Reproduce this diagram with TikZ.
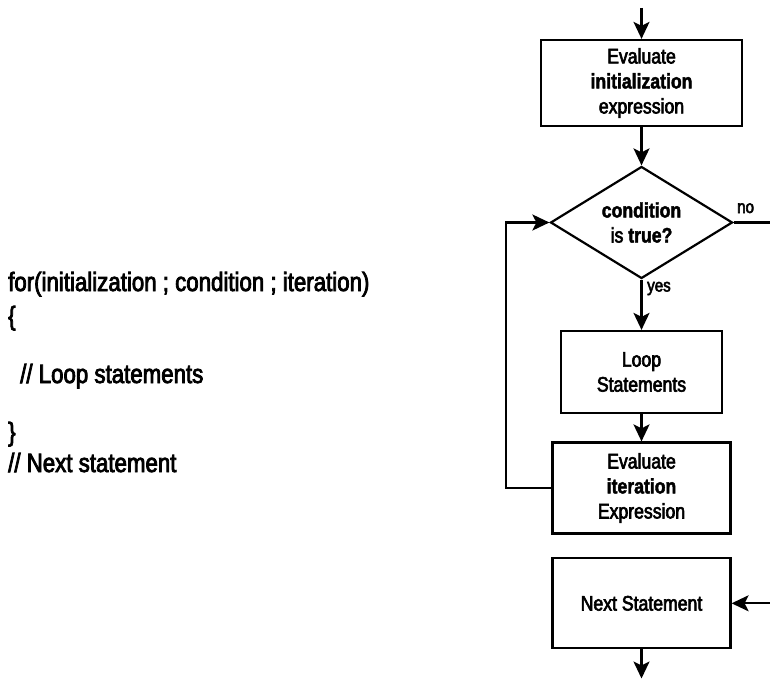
\documentclass[tikz,border=0pt]{standalone}
\usepackage{fontspec}
\setmainfont{Liberation Sans}[FakeStretch=0.84,
  UprightFeatures={FakeBold=3},
  BoldFeatures={FakeBold=2}]
\usetikzlibrary{shapes.geometric,arrows.meta}
\begin{document}
\begin{tikzpicture}[x=1pt,y=-1pt,
  flow/.style={line width=2.2pt},
  arr/.style={flow,-{Stealth[length=17pt,width=16pt,inset=4pt]}},
  stepbox/.style={draw,line width=2.2pt,align=center,inner sep=0pt,
    font=\fontsize{21}{25}\selectfont},
  codeline/.style={anchor=base west,inner sep=0pt,
    font=\fontsize{26.5}{31}\selectfont},
  tag/.style={anchor=base west,inner sep=0pt,
    font=\fontsize{18}{21}\selectfont}]
\useasboundingbox (0,0) rectangle (770,679);

% source code of the loop
\node[codeline] (codeFor)   at (8,291)  {for(initialization ; condition ; iteration)};
\node[codeline] (codeOpen)  at (8,325)  {\{};
\node[codeline] (codeBody)  at (20,383) {// Loop statements};
\node[codeline] (codeClose) at (8,441)  {\}};
\node[codeline] (codeNext)  at (8,472)  {// Next statement};

% flow chart
\node[stepbox,minimum width=201pt,minimum height=86pt] (init) at (641.5,83)
  {Evaluate\\\textbf{initialization}\\expression};
\node[diamond,draw,line width=2.2pt,inner sep=0pt,minimum width=182pt,
  minimum height=112pt,
  label={[align=center,font=\fontsize{21}{25}\selectfont]center:\textbf{condition}\\is \textbf{true?}}]
  (cond) at (641.5,222.5) {};
\node[stepbox,minimum width=161pt,minimum height=82pt] (body) at (641.5,372)
  {Loop\\Statements};
\node[stepbox,minimum width=178pt,minimum height=91pt] (iter) at (641.5,488)
  {Evaluate\\\textbf{iteration}\\Expression};
\node[stepbox,minimum width=178pt,minimum height=90pt] (next) at (641.5,603.3)
  {Next Statement};

\coordinate (top) at (641.5,8);
\coordinate (bot) at (641.5,678.5);
\coordinate (rin) at (770,603.3);
\coordinate (nout) at (770,222.5);
\coordinate (loopcorner) at (506,488);

\draw[arr] (top) -- (init.north);
\draw[arr] (init.south) -- (cond.north);
\draw[arr] (cond.south) -- (body.north);
\draw[arr] (body.south) -- (iter.north);
\draw[arr] (iter.west) -- (loopcorner) |- (cond.west);
\draw[flow] (cond.east) -- (nout);
\draw[arr] (rin) -- (next.east);
\draw[arr] (next.south) -- (bot);

\node[tag] (noLabel)  at (737,213)   {no};
\node[tag] (yesLabel) at (647,291.5) {yes};
\end{tikzpicture}
\end{document}
